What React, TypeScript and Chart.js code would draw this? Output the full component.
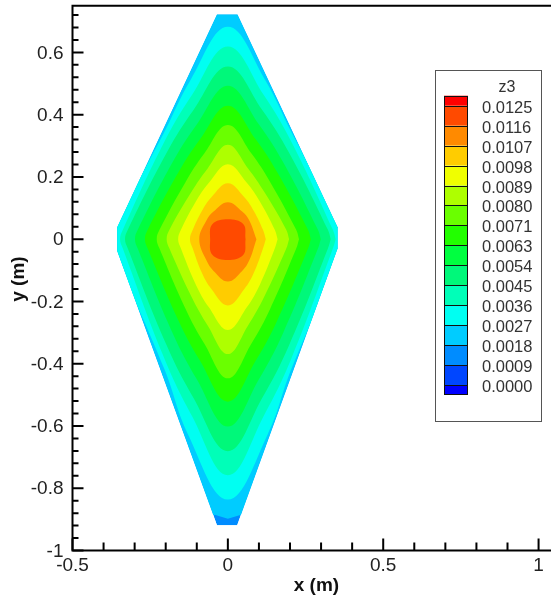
import { useEffect, useRef } from 'react';
import { Chart, registerables } from 'chart.js';

Chart.register(...registerables);

// ---------- axes ----------
const X_MIN = -0.5;
const X_MAX = 1.04;
const X_FRAME_MAX = 1.07;
const Y_MIN = -1;
const Y_MAX = 0.75;
const X_TICKS = [-0.5, 0, 0.5, 1];
const X_TICK_LABELS = ['-0.5', '0', '0.5', '1'];
const Y_TICKS = [-1, -0.8, -0.6, -0.4, -0.2, 0, 0.2, 0.4, 0.6];
const Y_TICK_LABELS = ['-1', '-0.8', '-0.6', '-0.4', '-0.2', '0', '0.2', '0.4', '0.6'];
const X_MINOR_STEP = 0.1;
const Y_MINOR_STEP = 0.04;
const X_TITLE = 'x (m)';
const Y_TITLE = 'y (m)';
const LEGEND_TITLE = 'z3';

// ---------- contour levels (ascending) ----------
const LEVELS = [0.0, 0.0009, 0.0018, 0.0027, 0.0036, 0.0045, 0.0054, 0.0063, 0.0071, 0.008, 0.0089, 0.0098, 0.0107, 0.0116, 0.0125];
// band colours: [below LEVELS[0], between levels..., above last level]
const BAND_COLORS = [
  '#0000FF', '#0046FF', '#008CFF', '#00CCFF', '#00FFF2', '#00FFB8', '#00F87A', '#00FF40',
  '#22FF00', '#6AFF00', '#AEFF00', '#F0FF00', '#FFCC00', '#FF8A00', '#FF4A00', '#FF0000',
];

// ---------- domain (rhombus plate) ----------
const DOMAIN_X = [-0.035, 0.031, 0.353, 0.353, 0.03, -0.035, -0.356, -0.356];
const DOMAIN_Y = [0.722, 0.722, 0.038, -0.03, -0.919, -0.919, -0.038, 0.038];
const DOMAIN_LOWER_LEVEL = 0.0009;

// ---------- iso-line 0.0018 (only crosses near the bottom tip) ----------
const CAP_LEVEL = 0.0018;
const CAP_X = [-1, 1, 1, 0.04, 0, -0.04, -1];
const CAP_Y = [1, 1, -0.875, -0.886, -0.898, -0.886, -0.875];

// ---------- closed iso-lines ----------
const CONTOUR_LEVELS = [0.0027, 0.0036, 0.0045, 0.0054, 0.0063, 0.0071, 0.008, 0.0089, 0.0098, 0.0107, 0.0116];
const CONTOUR_TOP = [0.682, 0.619, 0.555, 0.493, 0.429, 0.367, 0.303, 0.241, 0.18, 0.119, 0.064];
const CONTOUR_UP_HI_X = [0.12, 0.115, 0.11, 0.099, 0.089, 0.076, 0.065, 0.061, 0.053, 0.046, 0];
const CONTOUR_UP_HI_Y = [0.5115, 0.464, 0.416, 0.37, 0.322, 0.275, 0.227, 0.181, 0.135, 0.089, 0];
const CONTOUR_UP_SH_X = [0.206, 0.206, 0.197, 0.178, 0.159, 0.136, 0.117, 0.103, 0.084, 0.069, 0.05];
const CONTOUR_UP_SH_Y = [0.341, 0.31, 0.278, 0.247, 0.215, 0.184, 0.152, 0.121, 0.09, 0.06, 0.048];
const CONTOUR_SIDE = [0.38, 0.347, 0.331, 0.299, 0.267, 0.229, 0.197, 0.16, 0.122, 0.092, 0.057];
const CONTOUR_LO_SH_X = [0.204, 0.206, 0.197, 0.178, 0.159, 0.136, 0.117, 0.103, 0.084, 0.069, 0.05];
const CONTOUR_LO_SH_Y = [-0.418, -0.379, -0.341, -0.301, -0.261, -0.224, -0.185, -0.146, -0.107, -0.068, -0.05];
const CONTOUR_LO_HI_X = [0.128, 0.115, 0.11, 0.099, 0.089, 0.076, 0.065, 0.061, 0.053, 0.046, 0];
const CONTOUR_LO_HI_Y = [-0.627, -0.5685, -0.511, -0.4515, -0.3915, -0.335, -0.277, -0.219, -0.16, -0.102, 0];
const CONTOUR_BOTTOM = [-0.836, -0.758, -0.681, -0.602, -0.522, -0.447, -0.369, -0.292, -0.213, -0.136, -0.067];

const NEAR_DY = 0.03;
const NEAR_DX = 0.009;
const FONT = '"Liberation Sans", Arial, Helvetica, sans-serif';

type P = { x: number; y: number };

function bandColorAbove(level: number) {
  return BAND_COLORS[LEVELS.indexOf(level) + 1];
}

function contourLoop(i: number): P[] {
  const t = CONTOUR_TOP[i];
  const b = CONTOUR_BOTTOM[i];
  const s = CONTOUR_SIDE[i];
  const ux = CONTOUR_UP_SH_X[i];
  const uy = CONTOUR_UP_SH_Y[i];
  const lx = CONTOUR_LO_SH_X[i];
  const ly = CONTOUR_LO_SH_Y[i];
  const hux = CONTOUR_UP_HI_X[i];
  const huy = CONTOUR_UP_HI_Y[i];
  const hlx = CONTOUR_LO_HI_X[i];
  const hly = CONTOUR_LO_HI_Y[i];
  const nearUp = uy > 2.4 * NEAR_DY;
  const nearLo = -ly > 2.4 * NEAR_DY;
  const pts: P[] = [];
  pts.push({ x: s, y: 0 });
  if (nearLo) pts.push({ x: s - NEAR_DX, y: -NEAR_DY });
  pts.push({ x: lx, y: ly });
  if (hlx > 0) pts.push({ x: hlx, y: hly });
  pts.push({ x: 0, y: b });
  if (hlx > 0) pts.push({ x: -hlx, y: hly });
  pts.push({ x: -lx, y: ly });
  if (nearLo) pts.push({ x: -(s - NEAR_DX), y: -NEAR_DY });
  pts.push({ x: -s, y: 0 });
  if (nearUp) pts.push({ x: -(s - NEAR_DX), y: NEAR_DY });
  pts.push({ x: -ux, y: uy });
  if (hux > 0) pts.push({ x: -hux, y: huy });
  pts.push({ x: 0, y: t });
  if (hux > 0) pts.push({ x: hux, y: huy });
  pts.push({ x: ux, y: uy });
  if (nearUp) pts.push({ x: s - NEAR_DX, y: NEAR_DY });
  pts.push({ x: s, y: 0 });
  return pts;
}

function polyFrom(xs: number[], ys: number[]): P[] {
  const pts = xs.map((x, i) => ({ x, y: ys[i] }));
  pts.push({ ...pts[0] });
  return pts;
}

function makeDataset(data: P[], color: string, tension: number) {
  return {
    data,
    showLine: true,
    fill: 'shape',
    backgroundColor: color,
    borderColor: 'rgba(0,0,0,0)',
    borderWidth: 0,
    pointRadius: 0,
    pointHoverRadius: 0,
    tension,
  };
}

function buildDatasets() {
  const list: any[] = [];
  list.push(makeDataset(polyFrom(DOMAIN_X, DOMAIN_Y), bandColorAbove(DOMAIN_LOWER_LEVEL), 0));
  list.push(makeDataset(polyFrom(CAP_X, CAP_Y), bandColorAbove(CAP_LEVEL), 0));
  CONTOUR_LEVELS.forEach((lv, i) => {
    list.push(makeDataset(contourLoop(i), bandColorAbove(lv), 0.4));
  });
  // first dataset is drawn on top in Chart.js
  return list.reverse();
}

const decorPlugin = {
  id: 'decor',
  beforeDatasetsDraw(chart: any) {
    const { ctx, scales } = chart;
    const sx = scales.x;
    const sy = scales.y;
    ctx.save();
    ctx.beginPath();
    DOMAIN_X.forEach((vx, i) => {
      const px = sx.getPixelForValue(vx);
      const py = sy.getPixelForValue(DOMAIN_Y[i]);
      if (i === 0) ctx.moveTo(px, py);
      else ctx.lineTo(px, py);
    });
    ctx.closePath();
    ctx.clip();
  },
  afterDatasetsDraw(chart: any) {
    chart.ctx.restore();
  },
  afterDraw(chart: any) {
    const { ctx, scales, chartArea } = chart;
    const sx = scales.x;
    const sy = scales.y;
    const left = chartArea.left;
    const right = chartArea.right;
    const top = chartArea.top;
    const bottom = chartArea.bottom;
    ctx.save();
    ctx.strokeStyle = '#000';
    ctx.lineWidth = 2;
    ctx.lineCap = 'butt';
    // frame lines
    ctx.beginPath();
    ctx.moveTo(left, top);
    ctx.lineTo(right + 2, top);
    ctx.moveTo(left, top - 1);
    ctx.lineTo(left, bottom + 1);
    ctx.moveTo(left - 1, bottom);
    ctx.lineTo(right + 2, bottom);
    ctx.stroke();
    // y ticks
    ctx.beginPath();
    for (let k = Math.ceil(Y_MIN / Y_MINOR_STEP); k <= Math.floor(Y_MAX / Y_MINOR_STEP + 1e-9); k++) {
      const py = sy.getPixelForValue(k * Y_MINOR_STEP);
      ctx.moveTo(left, py);
      ctx.lineTo(left + 6, py);
    }
    Y_TICKS.forEach((v) => {
      const py = sy.getPixelForValue(v);
      ctx.moveTo(left, py);
      ctx.lineTo(left + 11, py);
    });
    // x ticks
    for (let k = Math.ceil(X_MIN / X_MINOR_STEP); k <= Math.floor(X_MAX / X_MINOR_STEP + 1e-9); k++) {
      const px = sx.getPixelForValue(k * X_MINOR_STEP);
      ctx.moveTo(px, bottom);
      ctx.lineTo(px, bottom - 8);
    }
    X_TICKS.forEach((v) => {
      const px = sx.getPixelForValue(v);
      ctx.moveTo(px, bottom);
      ctx.lineTo(px, bottom - 12);
    });
    ctx.stroke();

    // tick labels
    ctx.fillStyle = '#222';
    ctx.font = `19px ${FONT}`;
    ctx.textAlign = 'right';
    ctx.textBaseline = 'middle';
    Y_TICKS.forEach((v, i) => {
      ctx.fillText(Y_TICK_LABELS[i], left - 9, sy.getPixelForValue(v) + 1);
    });
    ctx.textAlign = 'center';
    X_TICKS.forEach((v, i) => {
      ctx.fillText(X_TICK_LABELS[i], sx.getPixelForValue(v), bottom + 15);
    });

    // axis titles
    ctx.fillStyle = '#111';
    ctx.font = `bold 19px ${FONT}`;
    ctx.textAlign = 'center';
    ctx.textBaseline = 'middle';
    ctx.fillText(X_TITLE, sx.getPixelForValue((X_MIN + X_FRAME_MAX) / 2), bottom + 35);
    ctx.save();
    ctx.translate(19, (top + bottom) / 2 + 1);
    ctx.rotate(-Math.PI / 2);
    ctx.fillText(Y_TITLE, 0, 0);
    ctx.restore();

    // legend (colour bar)
    const boxL = 435.5, boxT = 70.5, boxW = 106, boxH = 351;
    ctx.fillStyle = '#fff';
    ctx.fillRect(boxL, boxT, boxW, boxH);
    ctx.strokeStyle = '#555';
    ctx.lineWidth = 1;
    ctx.strokeRect(boxL, boxT, boxW, boxH);

    ctx.fillStyle = '#333';
    ctx.font = `16px ${FONT}`;
    ctx.textAlign = 'center';
    ctx.fillText(LEGEND_TITLE, 507, 88);

    const barL = 444, barR = 468;
    const firstLine = 105.7;
    const step = 19.95;
    const half = 10;
    const n = LEVELS.length;
    const lineY = (j: number) => firstLine + step * j; // j=0 -> highest level
    ctx.fillStyle = BAND_COLORS[n];
    ctx.fillRect(barL, lineY(0) - half, barR - barL, half);
    for (let j = 0; j < n - 1; j++) {
      ctx.fillStyle = BAND_COLORS[n - 1 - j];
      ctx.fillRect(barL, lineY(j), barR - barL, step);
    }
    ctx.fillStyle = BAND_COLORS[0];
    ctx.fillRect(barL, lineY(n - 1), barR - barL, half);

    ctx.strokeStyle = '#111';
    ctx.beginPath();
    for (let j = 0; j < n; j++) {
      const yy = Math.round(lineY(j)) + 0.5;
      ctx.moveTo(barL, yy);
      ctx.lineTo(barR, yy);
    }
    ctx.stroke();
    ctx.strokeRect(barL + 0.5, Math.round(lineY(0) - half) + 0.5, barR - barL - 1, Math.round(lineY(n - 1) + half) - Math.round(lineY(0) - half) - 1);

    ctx.fillStyle = '#333';
    ctx.font = `16.5px ${FONT}`;
    ctx.textAlign = 'left';
    ctx.textBaseline = 'middle';
    for (let j = 0; j < n; j++) {
      const lv = LEVELS[n - 1 - j];
      ctx.fillText(lv.toFixed(4), 482, lineY(j) + 2.5);
    }
    ctx.restore();
  },
};

export default function App() {
  const ref = useRef<HTMLCanvasElement>(null);
  useEffect(() => {
    const canvas = ref.current;
    if (!canvas) return;
    const chart = new Chart(canvas, {
      type: 'line',
      data: { datasets: buildDatasets() },
      options: {
        responsive: false,
        animation: false,
        events: [],
        layout: { padding: { left: 72.5, top: 5.7, right: 0, bottom: 49.5 } },
        scales: {
          x: { type: 'linear', min: X_MIN, max: X_MAX, display: false },
          y: { type: 'linear', min: Y_MIN, max: Y_MAX, display: false },
        },
        plugins: {
          legend: { display: false },
          tooltip: { enabled: false },
        },
      } as any,
      plugins: [decorPlugin],
    });
    return () => chart.destroy();
  }, []);
  return (
    <div style={{ position: 'fixed', left: 0, top: 0, width: 551, height: 600, background: '#fff' }}>
      <canvas ref={ref} width={551} height={600} style={{ display: 'block', width: 551, height: 600 }} />
    </div>
  );
}
